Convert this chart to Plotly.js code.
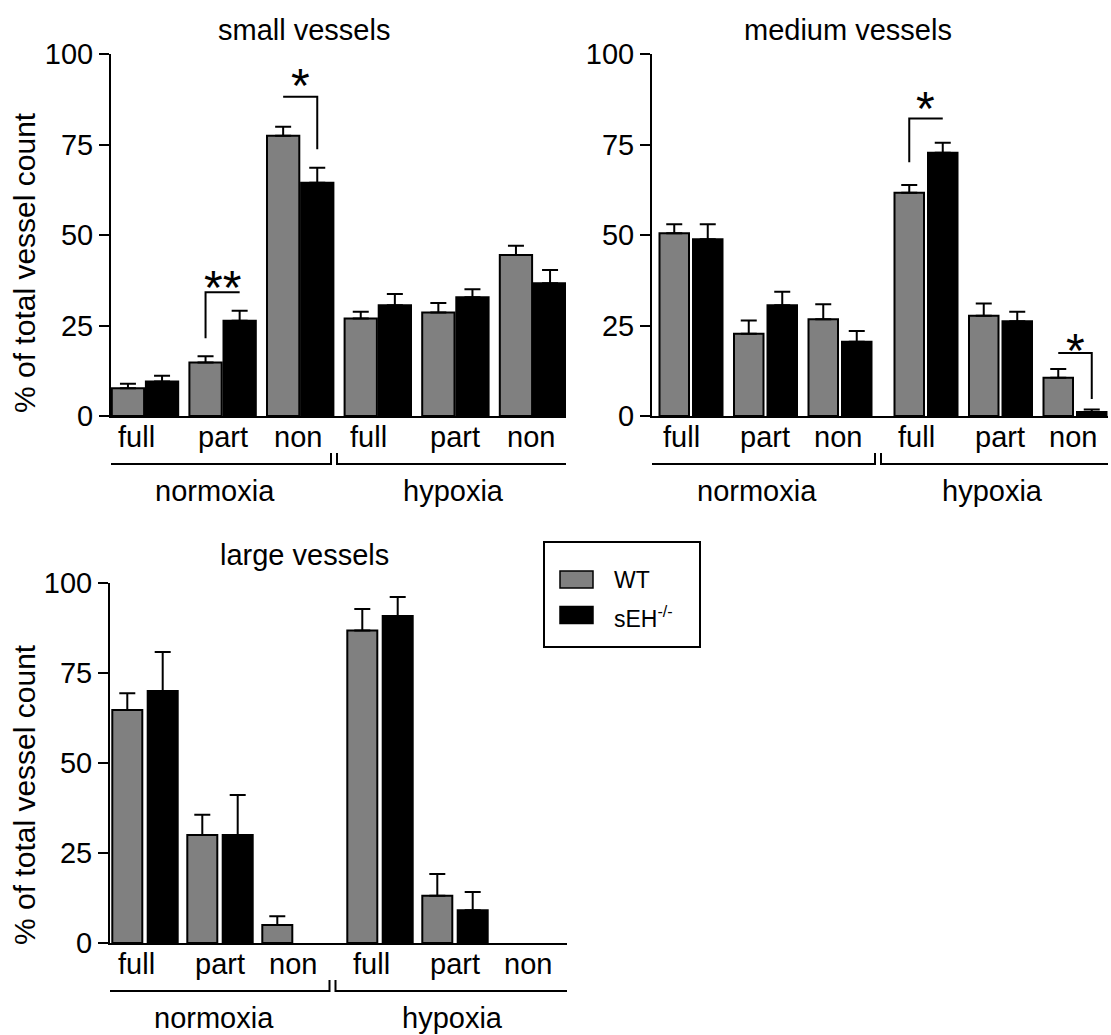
<!DOCTYPE html>
<html>
<head>
<meta charset="utf-8">
<script src="https://cdn.plot.ly/plotly-3.0.1.min.js"></script>
<style>html,body{margin:0;padding:0;background:#fff;}#chart{width:1111px;height:1035px;}</style>
</head>
<body>
<div id="chart"></div>
<script>
// ---------------- DATA ----------------
const groups = ['full', 'part', 'non', 'full', 'part', 'non'];
const conditions = ['normoxia', 'hypoxia'];
const seriesNames = ['WT', 'sEH<sup>-/-</sup>'];
const panelTitles = ['small vessels', 'medium vessels', 'large vessels'];
const yTicks = [0, 25, 50, 75, 100];
const yTitle = '% of total vessel count';

const smallWT     = [7.7, 14.8, 77.4, 26.9, 28.6, 44.5];
const smallWTsem  = [1.2, 1.7, 2.5, 1.9, 2.6, 2.5];
const smallKO     = [9.5, 26.3, 64.4, 30.6, 32.8, 36.7];
const smallKOsem  = [1.6, 2.8, 4.2, 3.1, 2.2, 3.6];

const mediumWT    = [50.5, 22.7, 26.7, 61.7, 27.7, 10.6];
const mediumWTsem = [2.5, 3.7, 4.2, 2.1, 3.4, 2.4];
const mediumKO    = [48.8, 30.6, 20.5, 72.7, 26.2, 1.1];
const mediumKOsem = [4.2, 3.7, 3.0, 2.8, 2.6, 0.7];

const largeWT     = [64.7, 30.0, 5.0, 86.8, 13.1, 0];
const largeWTsem  = [4.7, 5.6, 2.4, 6.0, 6.1, 0];
const largeKO     = [70.0, 30.0, 0, 90.8, 9.1, 0];
const largeKOsem  = [10.8, 11.1, 0, 5.3, 5.1, 0];

// significance marks: panel index, group index, label, bracket y, leg end y, star y
const sigPanel = [0, 0, 1, 1];
const sigGroup = [1, 2, 3, 5];
const sigLabel = ['**', '*', '*', '*'];
const sigLineY = [34.2, 88.2, 82.2, 17.4];
const sigLegY  = [21.5, 73.7, 70.1, 4.7];
const sigTextY = [38.3, 94.2, 88.0, 21.0];

// ---------------- LAYOUT GEOMETRY (pixels) ----------------
const W = 1111, H = 1035;
const FONT = 'Liberation Sans, Arial, Helvetica, sans-serif';
const GRAY = '#808080';
const geom = [
  {x0: 111, x1: 566, yTop: 54, yBot: 416, c0: 145, step: 77.6, condGap: 0, barW: 32.3, inner: 1.8,
   titleX: 304, titleY: 30.5, ytitle: true, ytX: 24, ytY: 263},
  {x0: 652, x1: 1108, yTop: 54, yBot: 416, c0: 691, step: 74.5, condGap: 11.5, barW: 29.5, inner: 4,
   titleX: 848, titleY: 30.5, ytitle: false},
  {x0: 110, x1: 567, yTop: 583, yBot: 943, c0: 145, step: 75, condGap: 10, barW: 30, inner: 5.4,
   titleX: 304, titleY: 555, ytitle: true, ytX: 24, ytY: 795}
];
const panelData = [
  [smallWT, smallWTsem, smallKO, smallKOsem],
  [mediumWT, mediumWTsem, mediumKO, mediumKOsem],
  [largeWT, largeWTsem, largeKO, largeKOsem]
];

const px2paperX = p => p / W;
const px2paperY = p => 1 - p / H;

const traces = [];
const shapes = [];
const annotations = [];
const layout = {
  width: W, height: H,
  margin: {l: 0, r: 0, t: 0, b: 0},
  paper_bgcolor: '#fff', plot_bgcolor: 'rgba(0,0,0,0)',
  barmode: 'overlay',
  showlegend: false,
  font: {family: FONT, color: '#000', size: 28},
  shapes: shapes, annotations: annotations
};

// no error bar drawn where there is no bar
const errUp = (vals, errs) => errs.map((e, i) => vals[i] > 0 ? e : NaN);
const errDown = (vals) => vals.map(v => v > 0 ? 0 : NaN);

geom.forEach((g, k) => {
  const sfx = k === 0 ? '' : String(k + 1);
  const xa = 'x' + sfx, ya = 'y' + sfx;
  const centers = groups.map((_, i) => i + (i >= 3 ? g.condGap / g.step : 0));
  const toU = p => (p - g.c0) / g.step;       // pixel -> x units
  const cPx = c => g.c0 + c * g.step;          // x units -> pixel
  const bw = g.barW / g.step, half = g.inner / 2 / g.step;
  const [wt, wtE, ko, koE] = panelData[k];

  traces.push({
    type: 'bar', name: seriesNames[0], x: centers, y: wt, xaxis: xa, yaxis: ya,
    width: bw, offset: -(bw + half),
    marker: {color: GRAY, line: {color: '#000', width: wt.map(v => v > 0 ? 2 : 0)}},
    error_y: {type: 'data', symmetric: false, array: errUp(wt, wtE), arrayminus: errDown(wt),
              color: '#000', thickness: 2, width: 8}
  });
  traces.push({
    type: 'bar', name: seriesNames[1], x: centers, y: ko, xaxis: xa, yaxis: ya,
    width: bw, offset: half,
    marker: {color: '#000', line: {color: '#000', width: ko.map(v => v > 0 ? 2 : 0)}},
    error_y: {type: 'data', symmetric: false, array: errUp(ko, koE), arrayminus: errDown(ko),
              color: '#000', thickness: 2, width: 8}
  });

  layout['xaxis' + sfx] = {
    domain: [px2paperX(g.x0), px2paperX(g.x1)], anchor: ya,
    range: [toU(g.x0), toU(g.x1)],
    showline: true, linecolor: '#000', linewidth: 2, mirror: false,
    showgrid: false, zeroline: false, ticks: '', showticklabels: false, fixedrange: true
  };
  layout['yaxis' + sfx] = {
    domain: [px2paperY(g.yBot), px2paperY(g.yTop)], anchor: xa,
    range: [0, 100], tickvals: yTicks, ticktext: yTicks.map(String),
    showline: true, linecolor: '#000', linewidth: 2,
    ticks: 'outside', ticklen: 10, tickwidth: 2, tickcolor: '#000',
    showgrid: false, zeroline: false, fixedrange: true,
    tickfont: {family: FONT, size: 29, color: '#000'}
  };

  // panel title
  annotations.push({text: panelTitles[k], xref: 'paper', yref: 'paper',
    x: px2paperX(g.titleX), y: px2paperY(g.titleY), xanchor: 'center', yanchor: 'middle',
    showarrow: false, font: {family: FONT, size: 29, color: '#000'}});
  // y title
  if (g.ytitle) {
    annotations.push({text: yTitle, xref: 'paper', yref: 'paper', textangle: -90,
      x: px2paperX(g.ytX), y: px2paperY(g.ytY), xanchor: 'center', yanchor: 'middle',
      showarrow: false, font: {family: FONT, size: 30, color: '#000'}});
  }
  // category labels
  const catShift = {full: -9, part: 0, non: -2};
  groups.forEach((lab, i) => {
    annotations.push({text: lab, xref: xa, yref: 'paper', x: centers[i], xshift: catShift[lab],
      y: px2paperY(g.yBot + 21), xanchor: 'center', yanchor: 'middle', showarrow: false,
      font: {family: FONT, size: 29, color: '#000'}});
  });
  // condition brackets
  const split = (cPx(centers[2]) + cPx(centers[3])) / 2 - 5;
  const spans = [[g.x0 - 4, split - 3], [split + 3, Math.min(g.x1 + 7, 1109)]];
  const yH = px2paperY(g.yBot + 48), yT = px2paperY(g.yBot + 37);
  spans.forEach((s, j) => {
    const a = toU(s[0]), b = toU(s[1]);
    shapes.push({type: 'path', xref: xa, yref: 'paper',
      path: `M ${a},${yT} L ${a},${yH} L ${b},${yH} L ${b},${yT}`,
      line: {color: '#000', width: 2}});
    annotations.push({text: conditions[j], xref: xa, yref: 'paper', x: (a + b) / 2,
      xshift: j === 0 ? -4 : -2, y: px2paperY(g.yBot + 75), xanchor: 'center', yanchor: 'middle',
      showarrow: false, font: {family: FONT, size: 29, color: '#000'}});
  });

  // significance
  sigPanel.forEach((p, s) => {
    if (p !== k) return;
    const gi = sigGroup[s];
    const wc = centers[gi] - (bw / 2 + half), kc = centers[gi] + (bw / 2 + half);
    const legOnWT = (wt[gi] + wtE[gi]) < (ko[gi] + koE[gi]);
    const path = legOnWT
      ? `M ${wc},${sigLegY[s]} L ${wc},${sigLineY[s]} L ${kc},${sigLineY[s]}`
      : `M ${wc},${sigLineY[s]} L ${kc},${sigLineY[s]} L ${kc},${sigLegY[s]}`;
    shapes.push({type: 'path', xref: xa, yref: ya, path: path, line: {color: '#000', width: 2}});
    const fs = 48;
    annotations.push({text: sigLabel[s], xref: xa, yref: ya, x: (wc + kc) / 2, y: sigTextY[s],
      yshift: -0.22 * fs, xanchor: 'center', yanchor: 'middle', showarrow: false,
      font: {family: FONT, size: fs, color: '#000'}});
  });
});

// legend (manual box)
shapes.push({type: 'rect', xref: 'paper', yref: 'paper',
  x0: px2paperX(544), x1: px2paperX(700), y0: px2paperY(542), y1: px2paperY(647),
  line: {color: '#000', width: 2}, fillcolor: 'rgba(0,0,0,0)'});
const legY = [579.5, 615];
const legFill = [GRAY, '#000'];
seriesNames.forEach((nm, i) => {
  shapes.push({type: 'rect', xref: 'paper', yref: 'paper',
    x0: px2paperX(560), x1: px2paperX(593), y0: px2paperY(legY[i] - 8.5), y1: px2paperY(legY[i] + 8.5),
    line: {color: '#000', width: 1.5}, fillcolor: legFill[i]});
  annotations.push({text: nm, xref: 'paper', yref: 'paper', x: px2paperX(612), y: px2paperY(legY[i] + (i === 1 ? 2 : 0)),
    xanchor: 'left', yanchor: 'middle', showarrow: false, font: {family: FONT, size: 23, color: '#000'}});
});

Plotly.newPlot('chart', traces, layout, {displayModeBar: false, staticPlot: true});
</script>
</body>
</html>
